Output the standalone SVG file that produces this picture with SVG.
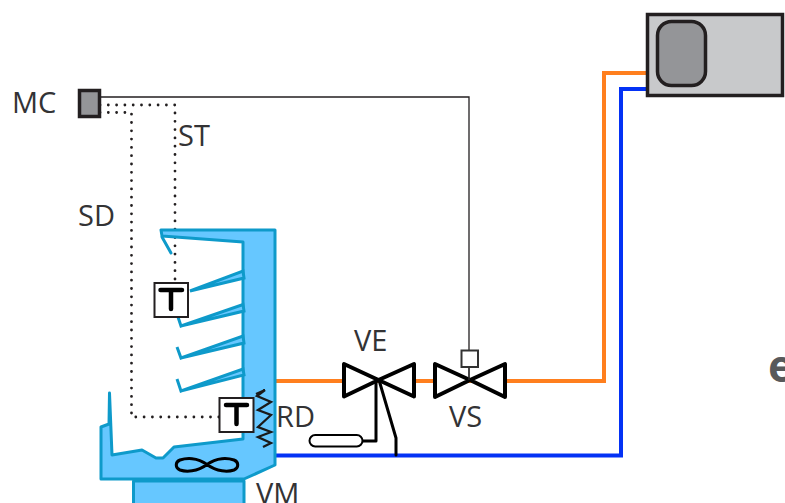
<svg xmlns="http://www.w3.org/2000/svg" width="785" height="503" viewBox="0 0 785 503">
<style>
text{font-family:"Open Sans","Liberation Sans",sans-serif;font-size:29px;fill:#333335}
.cy{fill:#66c7ff;stroke:#0e9aca;stroke-width:3;stroke-linejoin:round}
.sh{fill:#66c7ff;stroke:#0e9aca;stroke-width:3;stroke-linejoin:miter;stroke-linecap:round}
.dot{fill:none;stroke:#231f20;stroke-width:2.800;stroke-linecap:round;stroke-dasharray:0 8.300}
.blk{fill:none;stroke:#000;stroke-width:3;stroke-linejoin:round;stroke-linecap:round}
.valve{fill:#fff;stroke:#000;stroke-width:4;stroke-linejoin:round}
.tbox{fill:#fff;stroke:#231f20;stroke-width:2}
.tl{fill:none;stroke:#000;stroke-width:4.500;stroke-linecap:round}
</style>
<g id="connectors" fill="none">
<path d="M276 381H604V73H648" stroke="#ff7f1e" stroke-width="4"/>
<path d="M276 455.500H621V89H648" stroke="#0432f5" stroke-width="4"/>
<path d="M100 97H469V380" stroke="#231f20" stroke-width="1.300"/>
<path class="dot" d="M100 105H175V282"/>
<path class="dot" d="M100 112.500H131.500V417H219"/>
<path class="blk" d="M379 380L396 438V455"/>
<path class="blk" d="M376 381V441H363"/>
</g>
<g id="stand"><path class="cy" d="M133.500 481V505H244V481Z"/></g>
<g id="cabinet">
<path class="cy" d="M161 230H275V465L244 479H101V427L109 424L109.500 393L112 455L142 450L156 458H163L174 447L243 439V242L162 236Z"/>
<path class="sh" d="M162 237L171 253" fill="none"/>
<path class="sh" d="M243 271L244 278L190 291Z"/>
<path class="sh" d="M243 304.500L244 311L181 326L178 317L181 326Z"/>
<path class="sh" d="M243 336L244 343L181 358L177 347L181 358Z"/>
<path class="sh" d="M243 369L244 375L181 391L177 379L181 391Z"/>
</g>
<g id="fan"><path d="M207 464.500C197 457 186 458 180 460C175 462 175 468 180 470C186 472 197 472 207 464.500C217 457 228 458 234 460C239 462 239 468 234 470C228 472 217 472 207 464.500Z" fill="none" stroke="#000" stroke-width="3"/></g>
<g id="RD"><path d="M256 394L265 390L257 396L271 402L258 410L271 415L258 427L271 432L258 437L271 443L263 447" fill="none" stroke="#1a1a1a" stroke-width="2.300"/><text x="276" y="427">RD</text></g>
<g id="T1"><rect class="tbox" x="154.500" y="283" width="33.500" height="34"/><path class="tl" d="M160.500 290H182M171 290V309"/></g>
<g id="T2"><rect class="tbox" x="219.500" y="398" width="34" height="34"/><path class="tl" d="M226 405H247M236.500 405V424"/></g>
<g id="MC"><rect x="79.500" y="90.500" width="20" height="26" fill="#949598" stroke="#231f20" stroke-width="3.500"/><text x="12" y="113">MC</text></g>
<g id="ST"><text x="178" y="146">ST</text></g>
<g id="SD"><text x="78" y="226">SD</text></g>
<g id="VE"><path class="valve" d="M344 364V396.500L378.500 380ZM414 364V396.500L378.500 380Z"/><text x="354" y="351">VE</text></g>
<g id="VS"><path class="valve" d="M435 364V397L470 380ZM505 364V397L470 380Z"/><rect x="461.500" y="350.500" width="16.500" height="16.500" fill="#fff" stroke="#333" stroke-width="2"/><path d="M469 367V380" stroke="#333" stroke-width="1.300"/><text x="449" y="427">VS</text></g>
<g id="bulb"><rect x="309.500" y="435" width="53" height="11.500" rx="5.700" fill="#fff" stroke="#000" stroke-width="2"/></g>
<g id="VM"><text x="256" y="504">VM</text></g>
<g id="unit"><rect x="647.500" y="14.500" width="135" height="81" fill="#c8c9cb" stroke="#231f20" stroke-width="3.500"/><rect x="657.500" y="21.500" width="48" height="64" rx="14" fill="#949598" stroke="#231f20" stroke-width="3.500"/></g>
<text x="768" y="382" style="font-size:44px;font-weight:700;fill:#58595b">e</text>
</svg>
